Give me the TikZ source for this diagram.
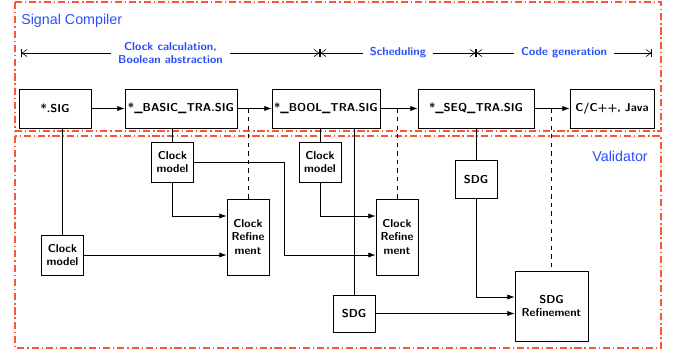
\documentclass[tikz,border=0pt]{standalone}
\usepackage{fontspec}
\usepackage{tikz}
\usetikzlibrary{
    shapes,
    positioning,
    calc,
    arrows,
    arrows.meta
}
\newfontfamily\titlefont{Liberation Sans}
\definecolor{framered}{RGB}{250,85,55}
\definecolor{stageblue}{RGB}{40,80,250}
\tikzset{
  basic/.style = {
      draw,
      semithick,
      rectangle,
      font=\sffamily\bfseries\footnotesize,
      align=center,
      inner sep=1pt
  },
  file/.style = {
      basic,
      minimum height=27.3pt
  },
  model/.style = {
      basic,
      minimum width=29.4pt,
      minimum height=28pt
  },
  refine/.style = {
      basic,
      minimum width=29.4pt,
      minimum height=53.2pt
  },
  sdg/.style = {
      basic,
      minimum width=29.4pt,
      minimum height=26pt
  },
  frame/.style = {
      draw=framered,
      line width=0.8pt,
      dash pattern=on 5pt off 2pt on 1pt off 2pt
  },
  title/.style = {
      font=\titlefont\normalsize,
      text=stageblue,
      inner sep=0pt
  },
  stage/.style = {
      font=\sffamily\bfseries\footnotesize,
      text=stageblue,
      fill=white,
      align=center,
      inner xsep=5pt
  },
  span/.style = {
      thin,
      {Bar[width=6pt,sep=0pt]Straight Barb[length=3.5pt,width=5pt]}-{Straight Barb[length=3.5pt,width=5pt,sep=0pt]Bar[width=6pt]}
  },
  edge/.style = {
      thin,
      -{Latex[length=5pt,width=3.5pt]}
  },
  link/.style = {
      thin
  },
  trace/.style = {
      thin,
      dashed
  }
}

\begin{document}
\begin{tikzpicture}[x=0.7pt, y=-0.7pt]
        \useasboundingbox (0,0) rectangle (681,351);
        % Frames
        \draw[frame] (15,2) rectangle (661,131);
        \draw[frame] (15,136) rectangle (661,348);
        \node[title, anchor=west] (compiler) at (21,21) {Signal Compiler};
        \node[title, anchor=east] (validator) at (648,156) {Validator};
        % Stages
        \coordinate (s0) at (21,53);
        \coordinate (s1) at (320,53);
        \coordinate (s2) at (476,53);
        \coordinate (s3) at (652,53);
        \draw[span] (s0) -- node[stage] {Clock calculation,\\Boolean abstraction} (s1);
        \draw[span] (s1) -- node[stage] {Scheduling} (s2);
        \draw[span] (s2) -- node[stage] {Code generation} (s3);
        % Compiler files
        \node[file, minimum width=50.4pt] (sig) at (55,108.5) {*.SIG};
        \node[file, minimum width=78.4pt] (basic) at (181,108.5) {*\_BASIC\_TRA.SIG};
        \node[file, minimum width=75.6pt] (bool) at (326,108.5) {*\_BOOL\_TRA.SIG};
        \node[file, minimum width=81.2pt] (seq) at (476,108.5) {*\_SEQ\_TRA.SIG};
        \node[file, minimum width=58.8pt] (code) at (612,108.5) {C/C++, Java};
        % Validator parts
        \node[model] (modelA) at (172.5,162) {Clock\\model};
        \node[model] (modelB) at (62.5,255) {Clock\\model};
        \node[model] (modelC) at (320,162) {Clock\\model};
        \node[refine] (refA) at (248,237) {Clock\\Refine\\ment};
        \node[refine] (refB) at (397,237) {Clock\\Refine\\ment};
        \node[sdg] (sdgA) at (476,179.5) {SDG};
        \node[sdg] (sdgB) at (354,313.5) {SDG};
        \node[basic, minimum width=51.1pt, minimum height=49pt] (sdgref) at (551.5,306) {SDG\\Refinement};
        % Edges
        \draw[edge] (sig) -- (basic);
        \draw[edge] (basic) -- (bool);
        \draw[edge] (bool) -- (seq);
        \draw[edge] (seq) -- (code);
        \draw[link] (modelB.north |- sig.south) -- (modelB.north);
        \draw[link] (modelA.north |- basic.south) -- (modelA.north);
        \draw[link] (modelC.north |- bool.south) -- (modelC.north);
        \draw[link] (sdgB.north |- bool.south) -- (sdgB.north);
        \draw[link] (sdgA.north |- seq.south) -- (sdgA.north);
        \draw[trace] (refA.north |- basic.east) -- (refA.north);
        \draw[trace] (refB.north |- bool.east) -- (refB.north);
        \draw[trace] (sdgref.north |- seq.east) -- (sdgref.north);
        \draw[edge] (modelA.south) |- ($(refA.west)+(0,-21)$);
        \draw[edge] (modelB.east) -- (modelB.east -| refA.west);
        \draw[edge] (modelA.east) -| (284,255) -- ($(refB.west)+(0,18)$);
        \draw[edge] (modelC.south) |- ($(refB.west)+(0,-21)$);
        \draw[edge] (sdgA.south) |- ($(sdgref.west)+(0,-9)$);
        \draw[edge] (sdgB.east) -- (sdgB.east -| sdgref.west);
    \end{tikzpicture}
\end{document}
